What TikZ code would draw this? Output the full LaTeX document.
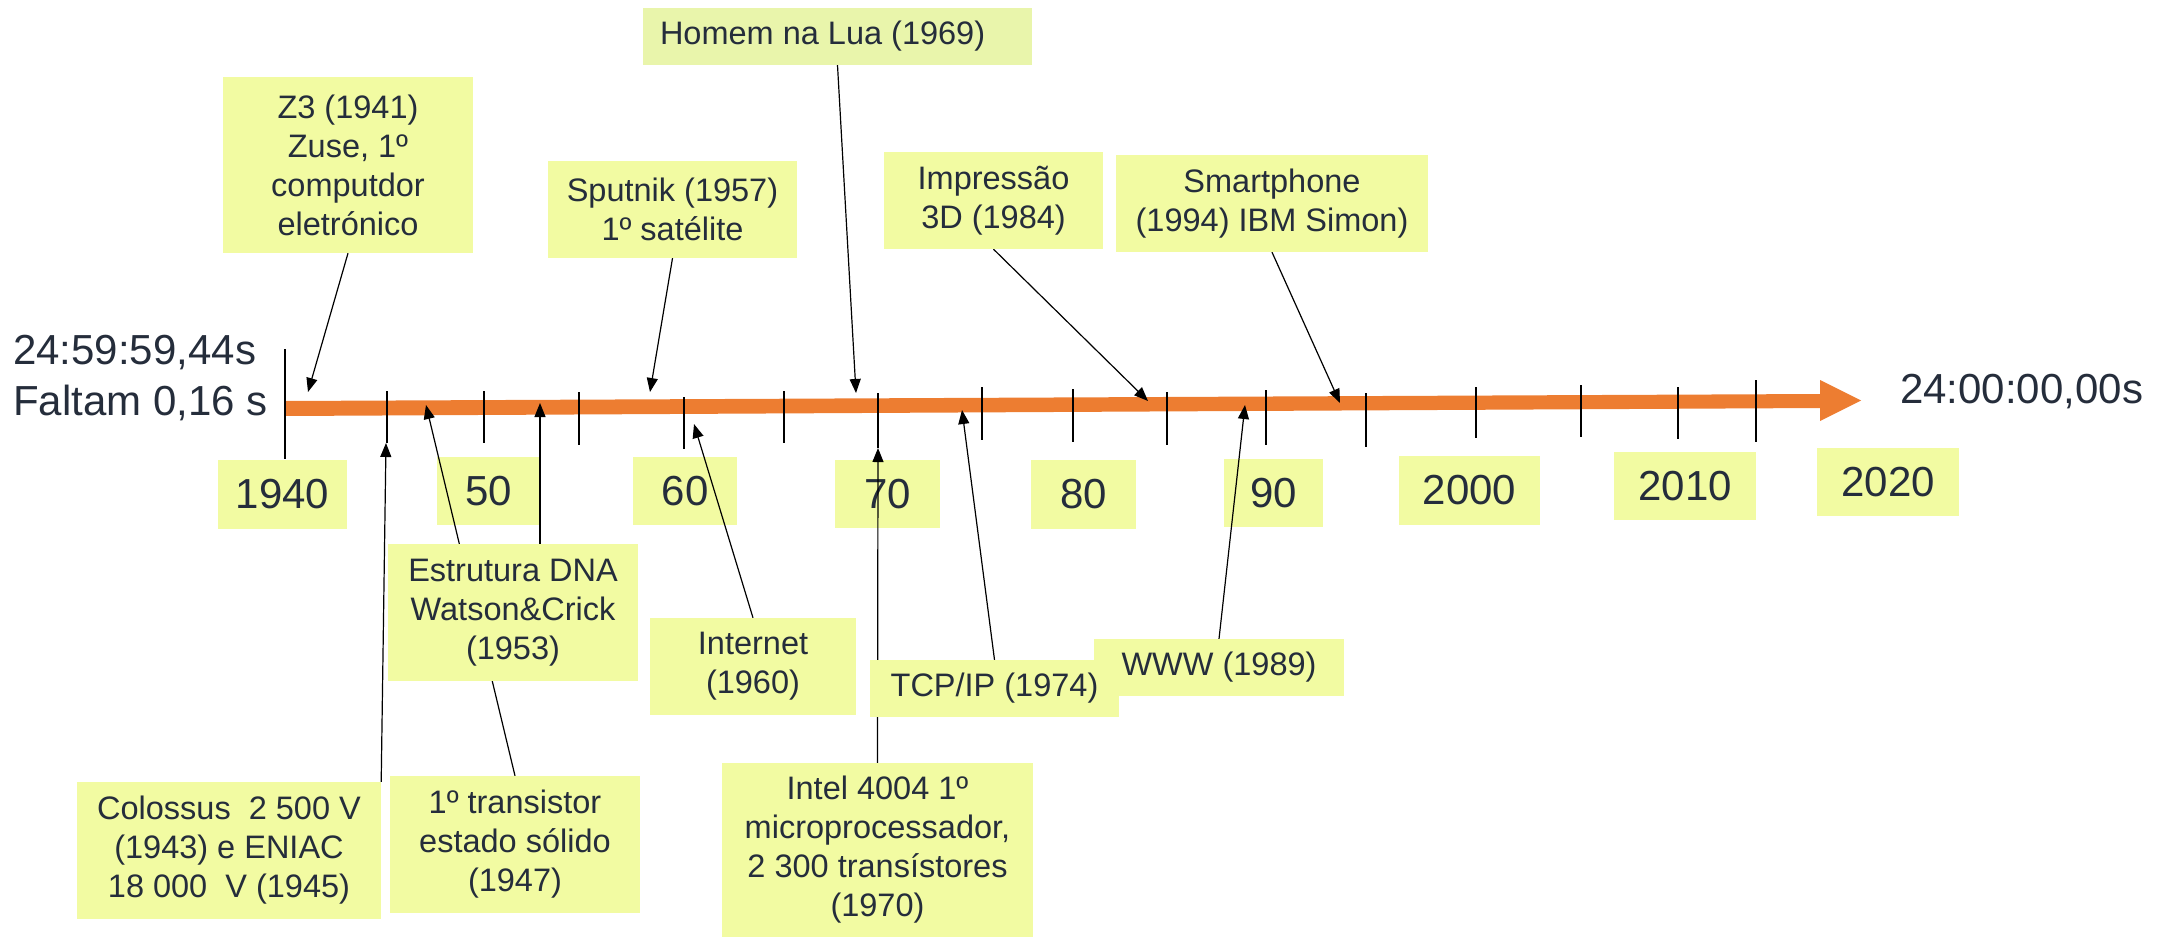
\documentclass[tikz,border=0pt]{standalone}
\usepackage{fontspec}
\setmainfont{Liberation Sans}
\usetikzlibrary{arrows.meta,calc}
\definecolor{boxfill}{HTML}{F2FBA2}
\definecolor{moonfill}{HTML}{E9F5AB}
\definecolor{txt}{HTML}{252D3B}
\definecolor{barc}{HTML}{ED7D31}
\begin{document}
\begin{tikzpicture}[x=1pt,y=-1pt,
  ev/.style={fill=boxfill, inner sep=0pt, align=center, text=txt, font=\fontsize{32.5}{39}\selectfont},
  frame/.style={inner sep=0pt, draw=none, fill=none},
  yr/.style={fill=boxfill, inner sep=0pt, text=txt, font=\fontsize{42}{50}\selectfont},
  big/.style={inner sep=0pt, text=txt, font=\fontsize{42}{51}\selectfont},
  tk/.style={line width=1.3pt},
  con/.style={line width=1.2pt, -{Triangle[length=14pt,width=11pt]}}]
\useasboundingbox (0,0) rectangle (2163,937);
% timeline bar
\fill[barc] (285,401) -- (1820,394) -- (1820,380) -- (1861,400.5) -- (1820,421) -- (1820,408) -- (285,416) -- cycle;
% start line and ticks
\draw[tk] (285,349) -- (285,459);
\foreach \x/\a/\b in {387/391/443,484/391/443,579/392/445,684/397/449,784/391/443,878/393/448,982/387/440,1073/389/442,1167/392/445,1266/390/445,1366/393/447,1476/387/438,1581/385/437,1678/387/439,1756/380/442}
  \draw[tk] (\x,\a) -- (\x,\b);
% side labels
\node[big, anchor=base west] (tstart) at (13,364) {24:59:59,44s};
\node[big, anchor=base west] (tleft) at (13,415) {Faltam 0,16 s};
\node[big, anchor=base west] (tend) at (1900,403) {24:00:00,00s};
% year boxes
\node[yr, minimum width=129pt, minimum height=69pt] (y1940) at (282.5,494.5) {1940};
\node[yr, minimum width=103pt, minimum height=68pt] (y50) at (488.5,491) {50};
\node[yr, minimum width=104pt, minimum height=68pt] (y60) at (685,491) {60};
\node[yr, minimum width=105pt, minimum height=68pt] (y70) at (887.5,494) {70};
\node[yr, minimum width=105pt, minimum height=69pt] (y80) at (1083.5,494.5) {80};
\node[yr, minimum width=99pt, minimum height=68pt] (y90) at (1273.5,493) {90};
\node[yr, minimum width=141pt, minimum height=69pt] (y2000) at (1469.5,490.5) {2000};
\node[yr, minimum width=142pt, minimum height=68pt] (y2010) at (1685,486) {2010};
\node[yr, minimum width=142pt, minimum height=68pt] (y2020) at (1888,482) {2020};
% tip coordinates
\coordinate (pz3) at (308,392);
\coordinate (psput) at (650,392);
\coordinate (pmoon) at (856,393);
\coordinate (pimp) at (1148,401);
\coordinate (psmart) at (1340,403);
\coordinate (pcol) at (386,443);
\coordinate (pdna) at (540,403);
\coordinate (ptran) at (426,405);
\coordinate (pnet) at (694,424);
\coordinate (pintel) at (878,448);
\coordinate (ptcp) at (962,410);
\coordinate (pwww) at (1245,405);
% event box frames (invisible; filled later so they cover the connectors)
\path
  node[frame, minimum width=250pt, minimum height=176pt] (z3) at (348,165) {}
  node[frame, minimum width=249pt, minimum height=97pt] (sput) at (672.5,209.5) {}
  node[frame, minimum width=389pt, minimum height=57pt] (moon) at (837.5,36.5) {}
  node[frame, minimum width=219pt, minimum height=97pt] (imp) at (993.5,200.5) {}
  node[frame, minimum width=312pt, minimum height=97pt] (smart) at (1272,203.5) {}
  node[frame, minimum width=304pt, minimum height=137pt] (col) at (229,850.5) {}
  node[frame, minimum width=250pt, minimum height=137pt] (dna) at (513,612.5) {}
  node[frame, minimum width=250pt, minimum height=137pt] (tran) at (515,844.5) {}
  node[frame, minimum width=206pt, minimum height=97pt] (net) at (753,666.5) {}
  node[frame, minimum width=311pt, minimum height=174pt] (intel) at (877.5,850) {}
  node[frame, minimum width=249pt, minimum height=57pt] (tcp) at (994.5,688.5) {}
  node[frame, minimum width=250pt, minimum height=57pt] (www) at (1219,667.5) {};
% connectors
\draw[con] (z3.south) -- (pz3);
\draw[con] (sput.south) -- (psput);
\draw[con] (moon.south) -- (pmoon);
\draw[con] (imp.south) -- (pimp);
\draw[con] (smart.south) -- (psmart);
\draw[con] (col.north east) -- (pcol);
\draw[con] ($(dna.north)+(27,0)$) -- (pdna);
\draw[con] (tran.north) -- (ptran);
\draw[con] (net.north) -- (pnet);
\draw[con] (intel.north) -- (pintel);
\draw[con] (tcp.north) -- (ptcp);
\draw[con] (www.north) -- (pwww);
% visible event boxes with text
\fill[boxfill] (z3.south west) rectangle (z3.north east);
\node[ev, fill=none] (z3t) at (z3.center) {Z3 (1941)\\Zuse, 1º\\computdor\\eletrónico};
\fill[boxfill] (sput.south west) rectangle (sput.north east);
\node[ev, fill=none] (sputt) at (sput.center) {Sputnik (1957)\\1º satélite};
\fill[moonfill] (moon.south west) rectangle (moon.north east);
\node[ev, fill=none, anchor=west] (moont) at ($(moon.west)+(17,0)$) {Homem na Lua (1969)};
\fill[boxfill] (imp.south west) rectangle (imp.north east);
\node[ev, fill=none] (impt) at (imp.center) {Impressão\\3D (1984)};
\fill[boxfill] (smart.south west) rectangle (smart.north east);
\node[ev, fill=none] (smartt) at (smart.center) {Smartphone\\(1994) IBM Simon)};
\fill[boxfill] (col.south west) rectangle (col.north east);
\node[ev, fill=none] (colt) at (col.center) {Colossus\ \ 2 500 V\\(1943) e ENIAC\\18 000\ \ V (1945)};
\fill[boxfill] (dna.south west) rectangle (dna.north east);
\node[ev, fill=none] (dnat) at (dna.center) {Estrutura DNA\\Watson\&Crick\\(1953)};
\fill[boxfill] (tran.south west) rectangle (tran.north east);
\node[ev, fill=none] (trant) at (tran.center) {1º transistor\\estado sólido\\(1947)};
\fill[boxfill] (net.south west) rectangle (net.north east);
\node[ev, fill=none] (nett) at (net.center) {Internet\\(1960)};
\fill[boxfill] (intel.south west) rectangle (intel.north east);
\node[ev, fill=none] (intelt) at (intel.center) {Intel 4004 1º\\microprocessador,\\2 300 transístores\\(1970)};
\fill[boxfill] (www.south west) rectangle (www.north east);
\node[ev, fill=none] (wwwt) at (www.center) {WWW (1989)};
\fill[boxfill] (tcp.south west) rectangle (tcp.north east);
\node[ev, fill=none] (tcpt) at (tcp.center) {TCP/IP (1974)};
\end{tikzpicture}
\end{document}
